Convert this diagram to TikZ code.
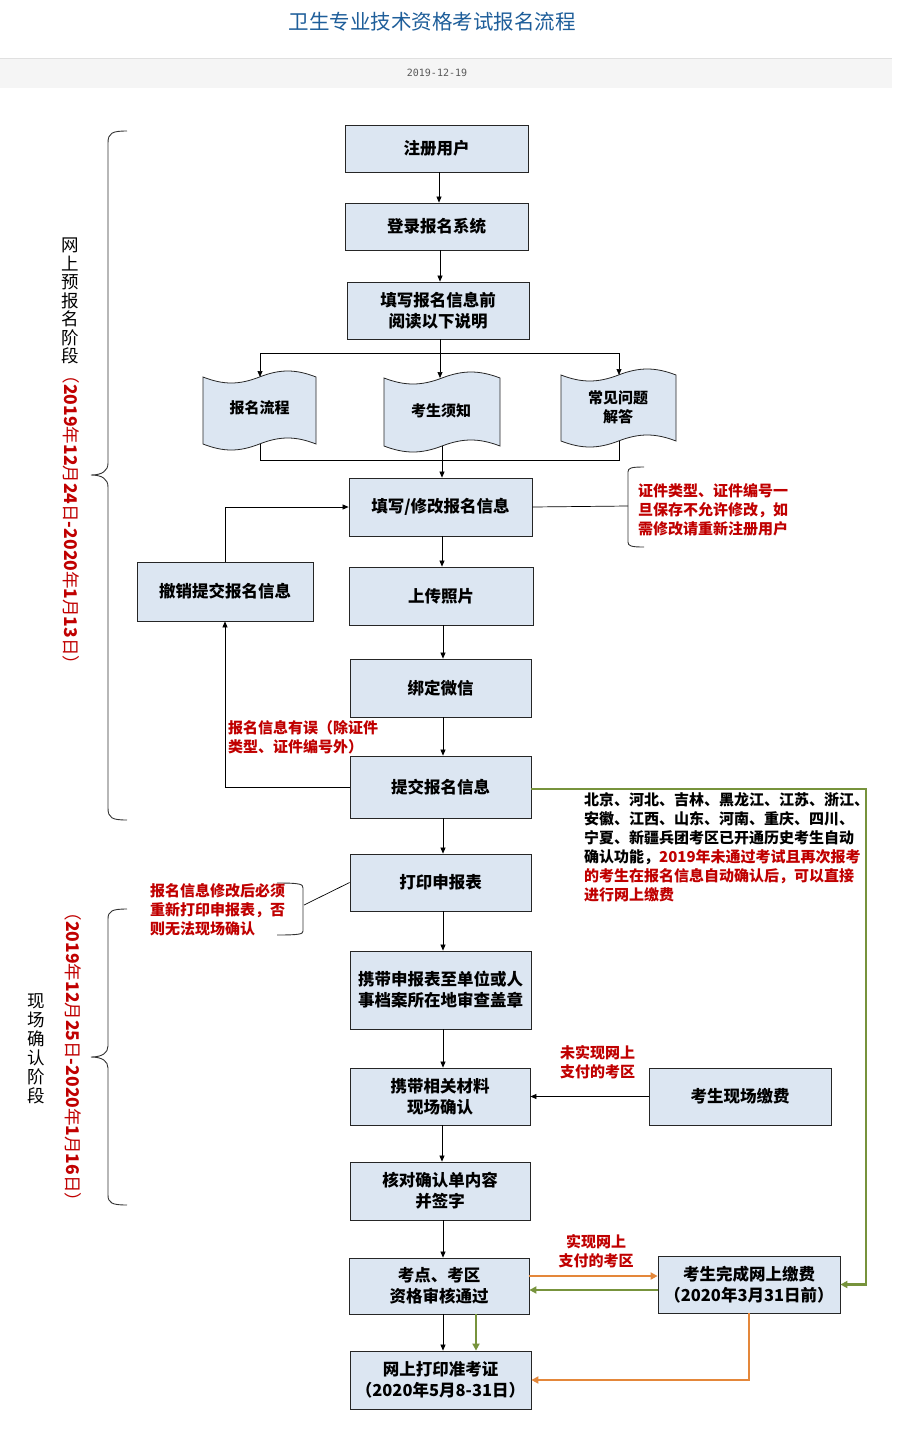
\documentclass[tikz,border=0pt]{standalone}
\usepackage{fontspec}
\setmainfont{Noto Sans CJK SC}
\newfontfamily\monof{DejaVu Sans Mono}
\usetikzlibrary{arrows.meta}
\definecolor{boxfill}{HTML}{DCE6F2}
\definecolor{nred}{HTML}{C00000}
\definecolor{ggreen}{HTML}{77933C}
\definecolor{oorange}{HTML}{E4873A}
\definecolor{ttl}{HTML}{1E5E9A}
\newcommand{\tapeshape}[4]{%
 \pgfmathsetmacro{\tpW}{#2-#1}%
 \pgfmathsetmacro{\tpA}{#1+0.18*\tpW}\pgfmathsetmacro{\tpB}{#1+0.32*\tpW}%
 \pgfmathsetmacro{\tpC}{#1+0.5*\tpW}\pgfmathsetmacro{\tpD}{#1+0.68*\tpW}%
 \pgfmathsetmacro{\tpE}{#1+0.82*\tpW}%
 \filldraw[tape] (#1,#3) .. controls (\tpA,#3+8) and (\tpB,#3+8) .. (\tpC,#3)
   .. controls (\tpD,#3-8) and (\tpE,#3-8) .. (#2,#3) -- (#2,#4)
   .. controls (\tpE,#4-8) and (\tpD,#4-8) .. (\tpC,#4)
   .. controls (\tpB,#4+8) and (\tpA,#4+8) .. (#1,#4) -- cycle;}
\newcommand{\dg}[1]{{\bfseries #1}}
\begin{document}
\begin{tikzpicture}[x=1pt,y=-1pt,
  box/.style={draw=black!85, line width=0.8pt, fill=boxfill, align=center, inner sep=0pt,
    font=\fontsize{16.5}{21}\selectfont\bfseries},
  sz/.style 2 args={minimum width=#1pt, minimum height=#2pt},
  tape/.style={draw=black!85, line width=0.8pt, fill=boxfill},
  doctxt/.style={align=center, inner sep=0pt, font=\fontsize{15}{19}\selectfont\bfseries},
  arr/.style={-{Triangle[length=6pt,width=5pt]}, line width=0.7pt, draw=black},
  ln/.style={line width=0.7pt, draw=black},
  garr/.style={-{Triangle[length=7pt,width=7pt]}, line width=2.8pt, draw=ggreen},
  oarr/.style={-{Triangle[length=7pt,width=7pt]}, line width=2.2pt, draw=oorange},
  rnote/.style={align=left, inner sep=0pt, text=nred, font=\fontsize{15}{19}\selectfont\bfseries},
  bnote/.style={align=left, inner sep=0pt, text=black, font=\fontsize{15}{19}\selectfont\bfseries},
  brace/.style={draw=black!80, line width=0.9pt}
]
\useasboundingbox (0,0) rectangle (900,1446);
\fill[white] (0,0) rectangle (900,1446);

% header
\node[font=\fontsize{20.5}{24}\selectfont, text=ttl] (title) at (432,22) {卫生专业技术资格考试报名流程};
\fill[black!4] (0,58) rectangle (892,88);
\draw[black!12, line width=1pt] (0,58.5) -- (892,58.5);
\node[font=\monof\fontsize{10}{12}\selectfont, text=black!65] (date) at (437,73) {2019-12-19};

% main boxes
\node[box, sz={183}{47}] (reg) at (436.5,148.5) {注册用户};
\node[box, sz={183}{47}] (login) at (436.5,226.5) {登录报名系统};
\node[box, sz={182}{57}] (read) at (438,310.5) {填写报名信息前\\阅读以下说明};
\node[box, sz={183}{58}] (fill) at (440.5,507) {填写/修改报名信息};
\node[box, sz={176}{59}] (cancel) at (225,591.5) {撤销提交报名信息};
\node[box, sz={184}{58}] (upload) at (441,596) {上传照片};
\node[box, sz={181}{58}] (wechat) at (440.5,688) {绑定微信};
\node[box, sz={181}{62}] (submit) at (440.5,787) {提交报名信息};
\node[box, sz={181}{57}] (print) at (440.5,882.5) {打印申报表};
\node[box, sz={181}{78}] (carry) at (440.5,990) {携带申报表至单位或人\\事档案所在地审查盖章};
\node[box, sz={180}{57}] (mat) at (440,1096.5) {携带相关材料\\现场确认};
\node[box, sz={182}{57}] (pay) at (740,1096.5) {考生现场缴费};
\node[box, sz={180}{58}] (check) at (440,1191) {核对确认单内容\\并签字};
\node[box, sz={180}{56}] (audit) at (439,1286) {考点、考区\\资格审核通过};
\node[box, sz={182}{57}] (online) at (749,1284.5) {考生完成网上缴费\\（2020年3月31日前）};
\node[box, sz={181}{58}] (admit) at (440.5,1380) {网上打印准考证\\（2020年5月8-31日）};

% documents
\tapeshape{203}{316}{377}{444}
\tapeshape{384}{500}{378}{446}
\tapeshape{561}{676}{375}{441}
\node[doctxt] (d1) at (259.5,408) {报名流程};
\node[doctxt] (d2) at (441,411) {考生须知};
\node[doctxt] (d3) at (618,407) {常见问题\\解答};

% branch connectors
\coordinate (bL) at (260,353);
\coordinate (bC) at (440,353);
\coordinate (bR) at (619,353);
\coordinate (d1t) at (260,377);
\coordinate (d2t) at (440,378);
\coordinate (d3t) at (619,375);
\coordinate (d1b) at (260,444);
\coordinate (d2b) at (442,446);
\coordinate (d3b) at (619,441);
\coordinate (mL) at (260,460);
\coordinate (mR) at (619,460);
\draw[ln] (read.south -| bC) -- (bC);
\draw[ln] (bL) -- (bR);
\draw[arr] (bL) -- (d1t);
\draw[arr] (bC) -- (d2t);
\draw[arr] (bR) -- (d3t);
\draw[ln] (d1b) -- (mL) -- (mR) -- (d3b);
\draw[arr] (d2b) -- (d2b |- fill.north);

% main vertical arrows
\draw[arr] (reg.south -| 439,0) -- (login.north -| 439,0);
\draw[arr] (login.south -| 440,0) -- (read.north -| 440,0);
\draw[arr] (fill.south -| 442,0) -- (upload.north -| 442,0);
\draw[arr] (upload.south -| 443,0) -- (wechat.north -| 443,0);
\draw[arr] (wechat.south -| 443,0) -- (submit.north -| 443,0);
\draw[arr] (submit.south -| 443,0) -- (print.north -| 443,0);
\draw[arr] (print.south -| 443,0) -- (carry.north -| 443,0);
\draw[arr] (carry.south -| 443,0) -- (mat.north -| 443,0);
\draw[arr] (mat.south -| 442,0) -- (check.north -| 442,0);
\draw[arr] (check.south -| 443,0) -- (audit.north -| 443,0);
\draw[arr] (audit.south -| 443,0) -- (admit.north -| 443,0);

% loop back
\draw[arr] (cancel.north) -- (cancel.north |- fill.west) -- (fill.west);
\draw[arr] (submit.west) -- (submit.west -| cancel.south) -- (cancel.south);
\node[rnote, anchor=west] (errlbl) at (228,737.5) {报名信息有误（除证件\\类型、证件编号外）};

% note 1
\coordinate (nb1) at (628,506);
\draw[ln] (fill.east) -- (nb1);
\draw[brace] (644,467) .. controls (631,467) and (628,468) .. (628,472) -- (628,542) .. controls (628,546) and (631,547) .. (644,547);
\node[rnote, anchor=west] (note1) at (638,510) {证件类型、证件编号一\\旦保存不允许修改，如\\需修改请重新注册用户};

% note 2
\coordinate (nb2) at (304,905);
\draw[ln] (print.west) -- (nb2);
\draw[brace] (277,883) .. controls (300,883) and (303,884) .. (303,888) -- (303,931) .. controls (303,934) and (300,935) .. (277,935);
\node[rnote, anchor=west] (note2) at (150,910) {报名信息修改后必须\\重新打印申报表，否\\则无法现场确认};

% green path
\coordinate (gR) at (866,789);
\draw[garr] (submit.east |- gR) -- (gR) -- (gR |- online.east) -- (online.east);
\node[bnote, anchor=west] (note3) at (584,847.5) {北京、河北、吉林、黑龙江、江苏、浙江、\\安徽、江西、山东、河南、重庆、四川、\\宁夏、新疆兵团考区已开通历史考生自动\\确认功能，{\color{nred}2019年未通过考试且再次报考}\\{\color{nred}的考生在报名信息自动确认后，可以直接}\\{\color{nred}进行网上缴费}};

% pay on site
\draw[arr] (pay.west) -- (mat.east |- pay.west);
\node[rnote, anchor=west] (lbl1) at (560,1062.5) {未实现网上\\支付的考区};

% online pay
\coordinate (oy) at (0,1276);
\coordinate (gy) at (0,1290);
\draw[oarr] (audit.east |- oy) -- (online.west |- oy);
\draw[garr] (online.west |- gy) -- (audit.east |- gy);
\node[rnote, align=center] (lbl2) at (596,1251.5) {实现网上\\支付的考区};
\coordinate (gx) at (476,0);
\draw[garr] (audit.south -| gx) -- (admit.north -| gx);
\draw[oarr] (online.south) -- (online.south |- admit.east) -- (admit.east);

% left braces
\draw[brace] (127,131) .. controls (112,131) and (108,133) .. (108,143) -- (108,463) .. controls (108,471) and (102,475) .. (91,475) .. controls (102,475) and (108,479) .. (108,487) -- (108,808) .. controls (108,818) and (112,820) .. (127,820);
\draw[brace] (127,909) .. controls (112,909) and (108,911) .. (108,919) -- (108,1046) .. controls (108,1053) and (102,1057) .. (91,1057) .. controls (102,1057) and (108,1061) .. (108,1068) -- (108,1195) .. controls (108,1203) and (112,1205) .. (127,1205);

\node[align=center, inner sep=0pt, font=\fontsize{17.5}{18.5}\selectfont] (stage1) at (70,301) {网\\上\\预\\报\\名\\阶\\段};
\node[rotate=-90, inner sep=0pt, text=nred, font=\fontsize{17.5}{18}\selectfont] (date1) at (71,520) {（\dg{2019}年\dg{12}月\dg{24}日\dg{-2020}年\dg{1}月\dg{13}日）};
\node[align=center, inner sep=0pt, font=\fontsize{17.5}{19}\selectfont] (stage2) at (36,1049) {现\\场\\确\\认\\阶\\段};
\node[rotate=-90, inner sep=0pt, text=nred, font=\fontsize{17.5}{18}\selectfont] (date2) at (73,1057) {（\dg{2019}年\dg{12}月\dg{25}日\dg{-2020}年\dg{1}月\dg{16}日）};
\end{tikzpicture}
\end{document}
